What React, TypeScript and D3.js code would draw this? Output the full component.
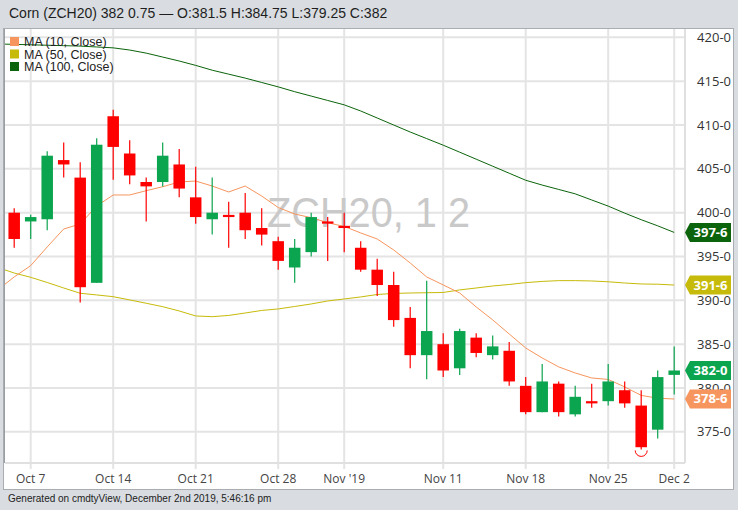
import React from 'react';
import * as d3 from 'd3';

const dates = ["Oct 3","Oct 4","Oct 7","Oct 8","Oct 9","Oct 10","Oct 11","Oct 14","Oct 15","Oct 16","Oct 17","Oct 18","Oct 21","Oct 22","Oct 23","Oct 24","Oct 25","Oct 28","Oct 29","Oct 30","Oct 31","Nov 1","Nov 4","Nov 5","Nov 6","Nov 7","Nov 8","Nov 11","Nov 12","Nov 13","Nov 14","Nov 15","Nov 18","Nov 19","Nov 20","Nov 21","Nov 22","Nov 25","Nov 26","Nov 27","Nov 29","Dec 2"];

const candleDates = dates.slice(1);
const opens = [400.0,399.0,399.25,406.0,404.0,392.0,411.0,406.75,403.5,403.5,405.5,401.75,399.25,399.75,400.0,398.25,396.75,393.75,395.5,399.0,398.5,396.0,393.5,391.75,388.0,383.75,385.0,382.25,385.75,383.75,384.25,380.25,377.25,380.5,377.0,378.5,378.5,379.75,378.0,375.25,381.5];
const highs = [400.5,399.75,407.0,408.0,405.75,408.5,411.75,408.25,404.0,408.0,407.25,405.25,404.0,401.25,402.25,400.5,397.25,397.0,400.0,399.5,400.0,396.75,394.75,393.25,389.25,392.25,386.25,386.75,386.25,386.0,385.25,381.25,382.75,380.75,380.25,380.5,382.75,380.75,379.75,382.0,384.75];
const lows = [396.0,397.0,398.0,404.0,389.75,392.0,403.75,403.25,399.0,403.0,401.75,398.75,397.5,396.0,397.0,396.25,393.5,392.0,395.0,394.5,395.5,393.25,390.5,387.0,382.25,381.0,381.25,381.5,383.5,383.25,380.25,377.0,377.25,376.75,376.75,377.75,378.0,377.75,373.0,374.25,379.25];
const closes = [397.0,399.5,406.5,405.5,391.5,407.75,407.5,404.25,403.0,406.5,402.75,399.5,400.0,399.5,398.0,397.5,394.5,396.0,399.5,398.75,398.25,393.5,391.75,387.75,383.75,386.5,382.0,386.5,384.0,384.75,380.75,377.25,380.75,377.25,379.0,378.25,380.75,378.25,373.25,381.25,382.0];

const ma10 = [391.19,392.67,393.96,396.09,398.14,398.71,400.76,402.02,402.02,402.51,402.96,403.5,403.61,403.04,402.36,403.04,401.9,400.59,399.85,399.43,398.86,398.43,397.69,397.0,395.75,394.26,392.67,391.76,390.84,389.25,387.77,386.17,384.57,383.43,382.41,381.72,381.15,380.98,380.13,379.16,378.84,378.75];
const ma50 = [393.75,393.12,392.63,392.04,391.41,390.81,390.62,390.42,390.05,389.67,389.28,388.79,388.22,388.14,388.28,388.56,388.85,389.02,389.3,389.59,389.93,390.16,390.39,390.67,390.79,390.84,390.87,390.9,391.19,391.41,391.64,391.81,392.02,392.16,392.25,392.25,392.21,392.12,391.98,391.87,391.84,391.75];
const ma100 = [419.24,419.2,419.15,419.1,419.05,419.0,418.9,418.8,418.55,418.2,417.75,417.3,416.8,416.25,415.8,415.35,414.85,414.35,413.8,413.3,412.8,412.3,411.6,410.8,410.0,409.2,408.45,407.7,406.9,406.1,405.3,404.5,403.7,403.15,402.65,402.15,401.45,400.75,399.95,399.2,398.5,397.75];

const yTicks = [375,380,385,390,395,400,405,410,415,420];
const xTickDates = ["Oct 7","Oct 14","Oct 21","Oct 28","Nov 1","Nov 11","Nov 18","Nov 25","Dec 2"];
const xTickLabels = ["Oct 7","Oct 14","Oct 21","Oct 28","Nov '19","Nov 11","Nov 18","Nov 25","Dec 2"];

const seriesNames = ["MA (10, Close)","MA (50, Close)","MA (100, Close)"];
const seriesColors = ["#f7955e","#c6bb0a","#0b640b"];
const UP = "#0ba44f";
const DOWN = "#ff0000";

const W = 738, H = 510;
const PL = 5, PR = 685, PT = 29, PB = 463;

function fmt(v: number) {
  const f = Math.floor(v + 1e-9);
  return `${f}-${Math.round((v - f) * 8)}`;
}

export default function App() {
  const x = d3.scalePoint<string>().domain(dates).range([-2.3, 674.2]);
  const y = d3.scaleLinear().domain([371.45, 420.95]).range([PB, PT]);
  const line = (arr: number[]) =>
    d3.line<number>().x((_, i) => x(dates[i]) as number).y((d) => y(d))(arr) as string;
  const bw = 11.5;
  const font = "'Liberation Sans', Arial, sans-serif";
  const afont = "'Open Sans', sans-serif";

  const tags = [
    { v: ma100[ma100.length - 1], c: seriesColors[2] },
    { v: ma50[ma50.length - 1], c: seriesColors[1] },
    { v: closes[closes.length - 1], c: UP },
    { v: ma10[ma10.length - 1], c: seriesColors[0] },
  ];

  const lowIdx = candleDates.indexOf("Nov 27");
  const arcX = x("Nov 27") as number;
  const arcY = y(lows[lowIdx]) + 1;

  return (
    <svg width={W} height={H} style={{ position: 'absolute', left: 0, top: 0 }} xmlns="http://www.w3.org/2000/svg">
      <rect x={0} y={0} width={W} height={H} fill="#d9dde1" />
      <text x={9} y={18} fontFamily={font} fontSize={14} fill="#1e1e1e">Corn (ZCH20) 382 0.75 — O:381.5 H:384.75 L:379.25 C:382</text>
      <rect x={3.5} y={28.5} width={730} height={461} fill="#ffffff" stroke="#a9adb1" />
      <defs>
        <clipPath id="plot"><rect x={PL} y={PT} width={PR - PL} height={PB - PT} /></clipPath>
      </defs>
      {yTicks.map((t) => (
        <line key={'h' + t} x1={PL} x2={PR} y1={y(t)} y2={y(t)} stroke="#e4e4e4" strokeWidth={2} />
      ))}
      {xTickDates.map((d) => (
        <line key={'v' + d} x1={x(d)} x2={x(d)} y1={PT} y2={PB + 6} stroke="#e4e4e4" strokeWidth={2} />
      ))}
      <line x1={PL} x2={PR} y1={PB} y2={PB} stroke="#e0e0e0" strokeWidth={2} />
      <line x1={PR} x2={PR} y1={PT} y2={PB} stroke="#e0e0e0" strokeWidth={2} />
      <line x1={4.5} x2={4.5} y1={PT} y2={PB} stroke="#9a9ea2" strokeWidth={1} />
      <text x={267} y={227} fontFamily={font} fontSize={42} fill="#c9c9c9" textLength={203} lengthAdjust="spacingAndGlyphs">ZCH20, 1 2</text>
      <g clipPath="url(#plot)">
        <path d={line(ma100)} fill="none" stroke={seriesColors[2]} strokeWidth={1} />
        <path d={line(ma50)} fill="none" stroke={seriesColors[1]} strokeWidth={1} />
        <path d={line(ma10)} fill="none" stroke={seriesColors[0]} strokeWidth={1} />
        {candleDates.map((d, i) => {
          const cx = x(d) as number;
          const up = closes[i] >= opens[i];
          const col = up ? UP : DOWN;
          const top = y(Math.max(opens[i], closes[i]));
          const bot = y(Math.min(opens[i], closes[i]));
          const h = Math.max(2, bot - top);
          return (
            <g key={d}>
              <line x1={cx} x2={cx} y1={y(highs[i])} y2={y(lows[i])} stroke={col} strokeWidth={1.2} />
              <rect x={cx - bw / 2} y={top} width={bw} height={h} fill={col} />
            </g>
          );
        })}
        <path d={`M${arcX - 6},${arcY} A6,6 0 0,0 ${arcX + 6},${arcY}`} fill="none" stroke={DOWN} strokeWidth={1} />
      </g>
      {seriesNames.map((n, i) => (
        <g key={n}>
          <rect x={10} y={37 + i * 12.5} width={9} height={9} fill={seriesColors[i]} />
          <text x={24} y={46 + i * 12.5} fontFamily={font} fontSize={12.5} fill="#222">{n}</text>
        </g>
      ))}
      {yTicks.map((t) => (
        <text key={'yl' + t} x={731} y={y(t) + 4.5} textAnchor="end" fontFamily={afont} fontSize={13} fill="#333">{fmt(t)}</text>
      ))}
      {tags.map((tg, i) => {
        const cy = y(tg.v);
        const p = d3.path();
        p.moveTo(685, cy);
        p.lineTo(690, cy - 9.5);
        p.lineTo(731, cy - 9.5);
        p.lineTo(731, cy + 9.5);
        p.lineTo(690, cy + 9.5);
        p.closePath();
        return (
          <g key={'tag' + i}>
            <path d={p.toString()} fill={tg.c} />
            <text x={710.5} y={cy + 4.5} textAnchor="middle" fontFamily={afont} fontWeight="bold" fontSize={13} fill="#fff">{fmt(tg.v)}</text>
          </g>
        );
      })}
      {xTickDates.map((d, i) => (
        <text key={'xl' + d} x={x(d)} y={483} textAnchor="middle" fontFamily={afont} fontSize={12} fill="#444">{xTickLabels[i]}</text>
      ))}
      <text x={8} y={502} fontFamily={font} fontSize={10} fill="#222">Generated on cmdtyView, December 2nd 2019, 5:46:16 pm</text>
    </svg>
  );
}
